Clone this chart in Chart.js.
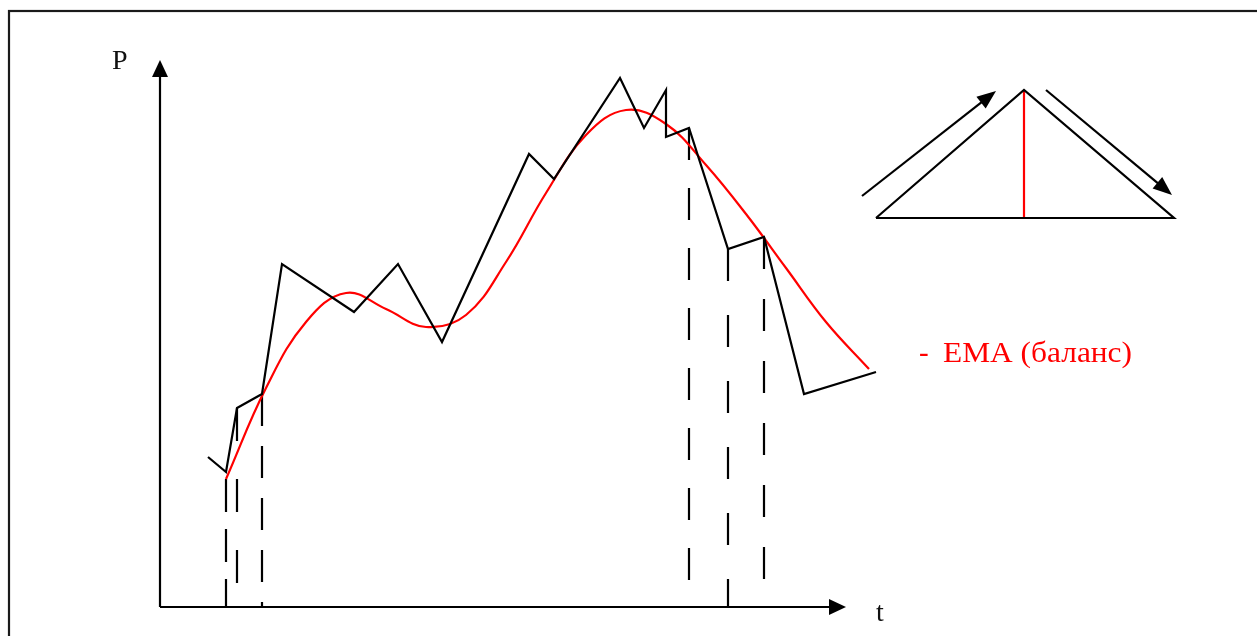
<!DOCTYPE html>
<html>
<head>
<meta charset="utf-8">
<script src="https://cdn.jsdelivr.net/npm/chart.js@4"></script>
<style>
  html, body { margin: 0; padding: 0; background: #fff; }
  canvas { display: block; }
</style>
</head>
<body>
<canvas id="emaChart" width="1257" height="636"></canvas>
<script>
(function () {
    "use strict";

    // price path (t, P)
    var priceT = [4.8, 6.6, 7.7, 10.2, 12.2, 19.4, 23.8, 28.2, 36.9, 39.4, 46.0, 48.4, 50.6, 50.6, 52.9, 56.8, 60.4, 64.4, 71.6];
    var priceP = [15.0, 13.5, 19.9, 21.3, 34.3, 29.5, 34.3, 26.5, 45.3, 42.8, 52.9, 47.9, 51.7, 47.0, 47.9, 35.8, 37.0, 21.3, 23.5];

    // smoothed EMA (balance) curve
    var emaT = [6.6, 10.6, 14.6, 18.6, 22.6, 26.6, 30.6, 34.6, 38.6, 42.6, 46.6, 50.6, 54.6, 58.6, 62.6, 66.6, 70.9];
    var emaP = [12.8, 21.9, 28.5, 31.4, 29.8, 28.0, 29.2, 34.5, 41.4, 47.2, 49.7, 48.3, 44.2, 39.3, 33.9, 28.5, 23.8];

    // dashed drop lines down to the time axis
    var dropT = [6.6, 7.7, 10.2, 52.9, 56.8, 60.4];
    var dropP = [12.8, 19.9, 21.3, 47.9, 35.8, 37.0];
    var dropDash = [[33, 17], [33, 38], [32, 20], [32, 28], [32, 34], [32, 30]];

    // axis ends
    var axisT = 68.6;
    var axisP = 54.7;

    // small triangle sketch: base left, apex, base right
    var triT = [71.6, 86.4, 101.4];
    var triP = [38.9, 51.7, 38.9];
    var upArrowT = [70.2, 83.6];
    var upArrowP = [41.1, 51.6];
    var downArrowT = [88.6, 101.2];
    var downArrowP = [51.7, 41.2];

    var lw = 2.2;

    function zip(xs, ys) {
        return xs.map(function (x, i) { return {x: x, y: ys[i]}; });
    }

    var datasets = [{
        label: "price",
        data: zip(priceT, priceP),
        showLine: true,
        borderColor: "#000",
        borderWidth: lw,
        pointRadius: 0,
        tension: 0
    }, {
        label: "EMA",
        data: zip(emaT, emaP),
        showLine: true,
        borderColor: "#ff0000",
        borderWidth: lw,
        pointRadius: 0,
        tension: 0.4
    }];

    dropT.forEach(function (t, i) {
        datasets.push({
            label: "drop" + i,
            data: [{x: t, y: dropP[i]}, {x: t, y: 0}],
            showLine: true,
            borderColor: "#000",
            borderWidth: lw,
            borderDash: dropDash[i],
            pointRadius: 0
        });
    });

    datasets.push({
        label: "triangle",
        data: zip(triT.concat([triT[0]]), triP.concat([triP[0]])),
        showLine: true,
        borderColor: "#000",
        borderWidth: lw,
        pointRadius: 0,
        tension: 0
    }, {
        label: "middle",
        data: [{x: triT[1], y: triP[1]}, {x: triT[1], y: triP[0]}],
        showLine: true,
        borderColor: "#ff0000",
        borderWidth: lw,
        pointRadius: 0
    });

    function arrowHead(ctx, x1, y1, x2, y2, len, half) {
        var a = Math.atan2(y2 - y1, x2 - x1);
        ctx.beginPath();
        ctx.moveTo(x2, y2);
        ctx.lineTo(x2 - len * Math.cos(a) + half * Math.sin(a), y2 - len * Math.sin(a) - half * Math.cos(a));
        ctx.lineTo(x2 - len * Math.cos(a) - half * Math.sin(a), y2 - len * Math.sin(a) + half * Math.cos(a));
        ctx.closePath();
        ctx.fill();
    }

    function arrowLine(ctx, x1, y1, x2, y2, len, half) {
        var a = Math.atan2(y2 - y1, x2 - x1);
        ctx.beginPath();
        ctx.moveTo(x1, y1);
        ctx.lineTo(x2 - (len - 2) * Math.cos(a), y2 - (len - 2) * Math.sin(a));
        ctx.stroke();
        arrowHead(ctx, x1, y1, x2, y2, len, half);
    }

    var sketch = {
        id: "sketch",
        beforeDraw: function (chart) {
            var ctx = chart.ctx;
            ctx.save();
            ctx.fillStyle = "#fff";
            ctx.fillRect(0, 0, chart.width, chart.height);
            // outer frame
            ctx.strokeStyle = "#1a1a1a";
            ctx.lineWidth = 2.2;
            ctx.strokeRect(9, 11, 1400, 800);
            ctx.restore();
        },
        afterDatasetsDraw: function (chart) {
            var ctx = chart.ctx;
            var xs = chart.scales.x, ys = chart.scales.y;
            var x0 = xs.getPixelForValue(0), y0 = ys.getPixelForValue(0);
            ctx.save();
            ctx.strokeStyle = "#000";
            ctx.fillStyle = "#000";
            ctx.lineWidth = lw;

            // axes with arrows
            arrowLine(ctx, x0, y0, x0, ys.getPixelForValue(axisP), 17, 8);
            arrowLine(ctx, x0, y0, xs.getPixelForValue(axisT), y0, 17, 8);

            // arrows beside the triangle
            arrowLine(ctx, xs.getPixelForValue(upArrowT[0]), ys.getPixelForValue(upArrowP[0]),
                xs.getPixelForValue(upArrowT[1]), ys.getPixelForValue(upArrowP[1]), 19, 7.5);
            arrowLine(ctx, xs.getPixelForValue(downArrowT[0]), ys.getPixelForValue(downArrowP[0]),
                xs.getPixelForValue(downArrowT[1]), ys.getPixelForValue(downArrowP[1]), 19, 7.5);

            // labels
            ctx.font = "28px 'Liberation Serif', 'Times New Roman', serif";
            ctx.fillStyle = "#111";
            ctx.textBaseline = "alphabetic";
            ctx.fillText("P", 112, 69);
            ctx.fillText("t", 876, 621);

            ctx.fillStyle = "#ff0000";
            ctx.font = "29px 'Liberation Serif', 'Times New Roman', serif";
            ctx.fillText("-", 919, 362);
            var label = "EMA (баланс)";
            var w = ctx.measureText(label).width;
            ctx.translate(943, 362);
            ctx.scale(189 / w, 1);
            ctx.fillText(label, 0, 0);
            ctx.restore();
        }
    };

    var ctx = document.getElementById("emaChart").getContext("2d");
    new Chart(ctx, {
        type: "scatter",
        data: {datasets: datasets},
        options: {
            responsive: false,
            animation: false,
            devicePixelRatio: 1,
            layout: {padding: {left: 160, right: 0, top: 7, bottom: 29}},
            scales: {
                x: {type: "linear", display: false, min: 0, max: 109.7},
                y: {type: "linear", display: false, min: 0, max: 60}
            },
            plugins: {
                legend: {display: false},
                tooltip: {enabled: false}
            }
        },
        plugins: [sketch]
    });
})();
</script>
</body>
</html>
